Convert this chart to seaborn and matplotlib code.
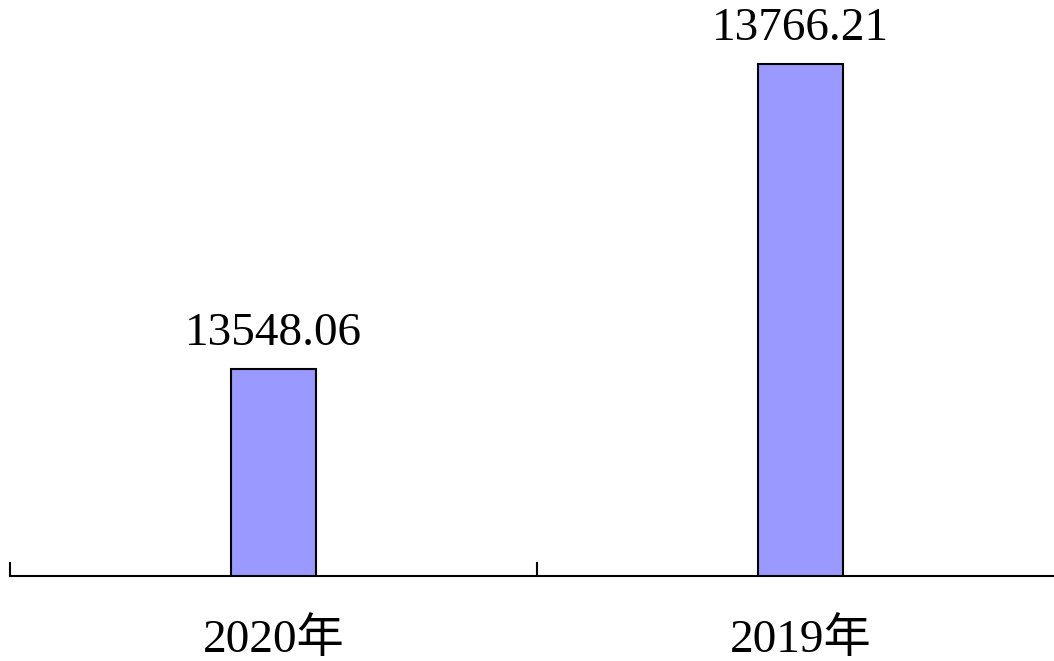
import matplotlib
matplotlib.use("Agg")
import matplotlib.pyplot as plt
import seaborn as sns
import pandas as pd

# Data
years = ["2020年", "2019年"]
values = [13548.06, 13766.21]
value_labels = ["13548.06", "13766.21"]

sns.set_theme(style="white")
plt.rcParams["font.family"] = ["Liberation Serif", "Noto Sans CJK SC"]
plt.rcParams["text.color"] = "black"
plt.rcParams["xtick.color"] = "black"

df = pd.DataFrame({"year": years, "value": values})

fig = plt.figure(figsize=(10.54, 6.61), dpi=100)
# axis line runs past the right edge of the picture
ax = fig.add_axes([10 / 1054, 85 / 661, 1054 / 1054, 559 / 661])

sns.barplot(data=df, x="year", y="value", color="#9999FF", saturation=1,
            width=0.163, edgecolor="black", linewidth=1.5, ax=ax)

ax.set_ylim(13400, 13800)
ax.set_xlim(-0.5, 1.5)

for i, (v, lab) in enumerate(zip(values, value_labels)):
    ax.annotate(lab, (i, v), xytext=(0, 10), textcoords="offset points",
                ha="center", va="bottom", fontsize=34, color="black")

# only the bottom axis line is shown
for side in ["left", "right", "top"]:
    ax.spines[side].set_visible(False)
ax.spines["bottom"].set_linewidth(1.5)
ax.spines["bottom"].set_color("black")
ax.set_yticks([])
ax.set_xlabel("")
ax.set_ylabel("")

# category boundary tick marks pointing up
ax.set_xticks([-0.5, 0.5], minor=True)
ax.tick_params(axis="x", which="minor", direction="in", length=10, width=1.5,
               color="black", bottom=True)
ax.tick_params(axis="x", which="major", length=0, pad=30, labelsize=34,
               labelcolor="black")

fig.savefig("out.png", dpi=100)
